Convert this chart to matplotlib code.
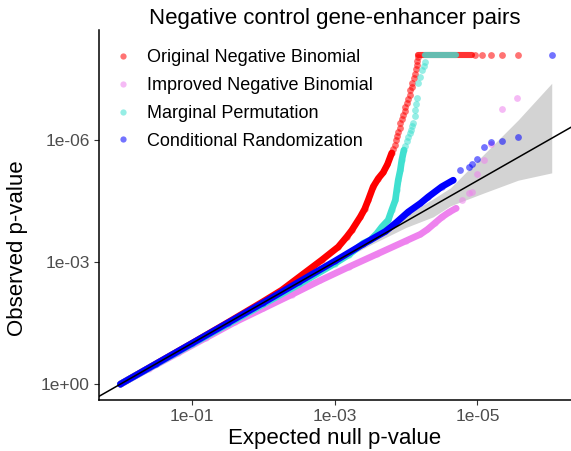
import matplotlib
matplotlib.use("Agg")
import matplotlib.pyplot as plt
from matplotlib.lines import Line2D

plt.rcParams['font.family'] = ['Liberation Sans', 'DejaVu Sans']

# all values are -log10(p); x = expected null, y = observed
# Original Negative Binomial (dense part, then sparse points)
orig_x = [0.0, 0.5, 1.0, 1.5, 2.0, 2.26, 2.54, 2.82, 3.05, 3.17, 3.24, 3.36, 3.42, 3.47, 3.54, 3.61, 3.68, 3.74, 3.8]
orig_y = [0.0, 0.5, 1.0, 1.51, 2.03, 2.31, 2.68, 3.05, 3.37, 3.62, 3.78, 4.11, 4.3, 4.52, 4.85, 5.05, 5.2, 5.4, 5.68]
orig_tail_x = [3.82, 3.84, 3.86, 3.88, 3.89, 3.91, 3.92, 3.94, 3.96, 3.98, 3.99, 4.01, 4.03, 4.05, 4.06,
               4.08, 4.09, 4.11, 4.13, 4.14, 4.15, 4.16, 4.17]
orig_tail_y = [5.78, 5.88, 6.0, 6.1, 6.2, 6.3, 6.41, 6.52, 6.62, 6.72, 6.81, 6.9, 7.0, 7.11, 7.22,
               7.31, 7.4, 7.52, 7.63, 7.74, 7.85, 7.95, 8.04]
orig_top_x = [4.17, 4.3, 4.45, 4.6, 4.75, 4.92]
orig_top_y = [8.08, 8.08, 8.08, 8.08, 8.08, 8.08]
orig_top_tail_x = [4.97, 5.07, 5.19, 5.34, 5.57]
orig_top_tail_y = [8.08, 8.08, 8.08, 8.08, 8.08]

# Improved Negative Binomial
impr_x = [0.0, 0.4, 0.8, 1.2, 1.6, 2.0, 2.4, 2.8, 3.2, 3.6, 4.0, 4.2, 4.3, 4.4, 4.5, 4.6, 4.7]
impr_y = [0.0, 0.38, 0.76, 1.14, 1.52, 1.86, 2.2, 2.55, 2.88, 3.2, 3.52, 3.68, 3.8, 3.95, 4.1, 4.22, 4.32]
impr_tail_x = [4.78, 4.88, 4.92, 5.0, 5.09, 5.19, 5.34, 5.56]
impr_tail_y = [4.52, 4.7, 4.72, 5.16, 5.5, 5.91, 6.75, 7.02]

# Marginal Permutation
marg_x = [0.0, 0.5, 1.0, 1.5, 2.0, 2.5, 3.0, 3.2, 3.4, 3.5, 3.59, 3.66, 3.75, 3.8, 3.85, 3.87, 3.89, 3.92, 3.94, 3.97]
marg_y = [0.0, 0.49, 0.98, 1.47, 1.96, 2.45, 2.96, 3.18, 3.46, 3.54, 3.7, 3.86, 4.03, 4.28, 4.52, 4.77, 5.01, 5.26, 5.5, 5.75]
marg_tail_x = [3.99, 4.01, 4.03, 4.05, 4.07, 4.09, 4.1, 4.12, 4.13, 4.14, 4.15, 4.17, 4.2, 4.22, 4.25, 4.27]
marg_tail_y = [5.86, 5.97, 6.08, 6.17, 6.25, 6.33, 6.41, 6.58, 6.73, 6.88, 7.02, 7.39, 7.55, 7.71, 7.82, 7.92]
marg_top_x = [4.27, 4.4, 4.55, 4.7]
marg_top_y = [8.08, 8.08, 8.08, 8.08]

# Conditional Randomization
cond_x = [0.0, 0.5, 1.0, 1.5, 2.0, 2.5, 3.0, 3.4, 3.71, 3.85, 4.03, 4.2, 4.31, 4.5, 4.66]
cond_y = [0.0, 0.5, 1.0, 1.5, 2.0, 2.51, 3.02, 3.44, 3.75, 3.95, 4.23, 4.44, 4.6, 4.85, 5.01]
cond_tail_x = [4.76, 4.88, 4.92, 5.0, 5.09, 5.19, 5.34, 5.57, 6.04]
cond_tail_y = [5.26, 5.34, 5.42, 5.53, 5.83, 5.95, 5.98, 6.08, 8.08]

# confidence band around the diagonal
band_x = [3.0, 3.5, 4.0, 4.38, 4.62, 5.08, 5.57, 6.04]
band_lo = [2.96, 3.42, 3.85, 4.11, 4.38, 4.69, 5.01, 5.19]
band_hi = [3.04, 3.58, 4.15, 4.55, 4.82, 5.63, 6.49, 7.39]

labels = ['Original Negative Binomial', 'Improved Negative Binomial',
          'Marginal Permutation', 'Conditional Randomization']
colors = ['#FF0000', '#EE82EE', '#40E0D0', '#0000FF']

fig = plt.figure(figsize=(5.71, 4.51), dpi=100)
ax = fig.add_axes([0.1734, 0.1131, 0.8266, 0.8204])

ax.fill_between(band_x, band_lo, band_hi, color='#D3D3D3', lw=0, zorder=1)

series = [
    (orig_x, orig_y, [orig_tail_x, orig_top_tail_x], [orig_tail_y, orig_top_tail_y], [orig_top_x], [orig_top_y]),
    (impr_x, impr_y, [impr_tail_x], [impr_tail_y], [], []),
    (marg_x, marg_y, [marg_tail_x], [marg_tail_y], [marg_top_x], [marg_top_y]),
    (cond_x, cond_y, [cond_tail_x], [cond_tail_y], [], []),
]
for (dx, dy, tx, ty, px, py), c in zip(series, colors):
    ax.plot(dx, dy, color=c, lw=4.8, solid_capstyle='round', zorder=2)
    ax.scatter(dx, dy, s=20, color=c, alpha=0.5, lw=0, zorder=2)
    for xx, yy in zip(px, py):
        ax.plot(xx, yy, color=c, lw=4.4, alpha=0.8, solid_capstyle='round', zorder=2)
    for xx, yy in zip(tx, ty):
        ax.scatter(xx, yy, s=24, color=c, alpha=0.55, lw=0, zorder=2)

ax.axline((0, 0), slope=1, color='black', lw=1.1, zorder=3)

ax.set_xlim(-0.3, 6.31)
ax.set_ylim(-0.39, 8.7)
ax.set_xticks([1, 3, 5])
ax.set_xticklabels(['1e-01', '1e-03', '1e-05'])
ax.set_yticks([0, 3, 6])
ax.set_yticklabels(['1e+00', '1e-03', '1e-06'])
ax.tick_params(labelsize=12.5, labelcolor='#4D4D4D', color='#333333', length=3.5, width=0.8, pad=3)
for s in ['top', 'right']:
    ax.spines[s].set_visible(False)
for s in ['left', 'bottom']:
    ax.spines[s].set_linewidth(1.1)

ax.set_title('Negative control gene-enhancer pairs', fontsize=16, pad=4)
ax.set_xlabel('Expected null p-value', fontsize=16, labelpad=3)
ax.set_ylabel('Observed p-value', fontsize=16)
ax.yaxis.set_label_coords(-0.150, 0.41)

handles = [Line2D([], [], ls='', marker='o', ms=4.5, color=c, alpha=0.55, mec='none') for c in colors]
ax.legend(handles, labels, loc='upper left', bbox_to_anchor=(0.005, 0.982), frameon=False,
          fontsize=13, handlelength=1.0, handletextpad=0.85, labelspacing=0.6, borderaxespad=0.3)

fig.savefig('out.png', dpi=100)
